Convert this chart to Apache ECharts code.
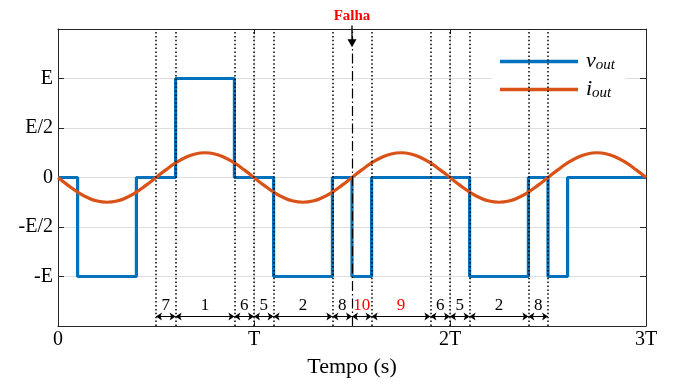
<!DOCTYPE html>
<html>
<head>
<meta charset="utf-8">
<script src="https://cdn.jsdelivr.net/npm/echarts@6/dist/echarts.min.js"></script>
<style>html,body{margin:0;padding:0;background:#fff}#c{width:673px;height:387px}</style>
</head>
<body>
<div id="c"></div>
<script>
// ---- data (time in units of T, amplitude in units of E) ----
var xTickValues = [0, 1, 2, 3];
var xTickLabels = ['0', 'T', '2T', '3T'];
var yTickValues = [-1, -0.5, 0, 0.5, 1];
var yTickLabels = ['-E', '-E/2', '0', 'E/2', 'E'];

// v_out: switching instants and the level held from each instant to the next
var voutTimes  = [0, 0.1, 0.4, 0.6, 0.9, 1.1, 1.4, 1.5, 1.6, 2.1, 2.4, 2.5, 2.6, 3.0];
var voutLevels = [0, -1,  0,   1,   0,   -1,  0,   -1,  0,   -1,  0,   -1,  0,   0];

// i_out: samples every 0.05 T
var ioutStep = 0.05;
var ioutValues = [
  0, -0.077, -0.147, -0.202, -0.238, -0.25, -0.238, -0.202, -0.147, -0.077,
  0, 0.077, 0.147, 0.202, 0.238, 0.25, 0.238, 0.202, 0.147, 0.077,
  0, -0.077, -0.147, -0.202, -0.238, -0.25, -0.238, -0.202, -0.147, -0.077,
  0, 0.077, 0.147, 0.202, 0.238, 0.25, 0.238, 0.202, 0.147, 0.077,
  0, -0.077, -0.147, -0.202, -0.238, -0.25, -0.238, -0.202, -0.147, -0.077,
  0, 0.077, 0.147, 0.202, 0.238, 0.25, 0.238, 0.202, 0.147, 0.077,
  0
];

// interval boundaries and their labels
var boundaries = [0.5, 0.6, 0.9, 1.0, 1.1, 1.4, 1.5, 1.6, 1.9, 2.0, 2.1, 2.4, 2.5];
var intervalLabels = ['7', '1', '6', '5', '2', '8', '10', '9', '6', '5', '2', '8'];
var intervalRed = [false, false, false, false, false, false, true, true, false, false, false, false];
var faultTime = 1.5;
var faultLabel = 'Falha';
var intervalArrowY = -1.405;
var faultArrowTop = 1.535, faultArrowTip = 1.315, faultLabelY = 1.63;

// ---- build ----
var serif = 'Liberation Serif';
var voutData = voutTimes.map(function (t, i) { return [t, voutLevels[i]]; });
var ioutData = ioutValues.map(function (v, i) { return [+(i * ioutStep).toFixed(4), v]; });

var markData = [];
boundaries.forEach(function (b) {
  if (b === faultTime) return;
  markData.push({
    xAxis: b,
    lineStyle: { type: [1.5, 2.4], color: '#000', width: 1.5 },
    label: { show: false }
  });
});
markData.push({
  xAxis: faultTime,
  lineStyle: { type: [10, 3, 1.5, 3], color: '#000', width: 1.2 },
  label: { show: false }
});
for (var i = 0; i < intervalLabels.length; i++) {
  markData.push([
    { coord: [boundaries[i], intervalArrowY], symbol: 'arrow', symbolSize: [6, 6],
      lineStyle: { type: 'solid', color: '#000', width: 1 },
      label: { show: true, position: 'middle', formatter: intervalLabels[i],
               color: intervalRed[i] ? '#ff0000' : '#000', fontFamily: serif, fontSize: 17, distance: 3 } },
    { coord: [boundaries[i + 1], intervalArrowY], symbol: 'arrow', symbolSize: [6, 6] }
  ]);
}

var axisColor = '#262626';
var chart = echarts.init(document.getElementById('c'), null, { renderer: 'canvas' });
chart.setOption({
  animation: false,
  backgroundColor: '#fff',
  grid: { left: 58, right: 27, top: 29, bottom: 61, containLabel: false },
  legend: {
    orient: 'vertical', left: 492, top: 42,
    backgroundColor: '#fff', padding: [8, 10, 8, 8],
    itemWidth: 78, itemHeight: 3.5, itemGap: 5,
    data: [{ name: 'vout', icon: 'rect' }, { name: 'iout', icon: 'rect' }],
    formatter: function (n) { return '{v|' + n.charAt(0) + '}{s|out}'; },
    textStyle: {
      padding: [0, 0, 0, 3],
      rich: {
        v: { fontFamily: serif, fontStyle: 'italic', fontSize: 22, color: '#000', lineHeight: 22 },
        s: { fontFamily: serif, fontStyle: 'italic', fontSize: 15, color: '#000', lineHeight: 14, padding: [8, 0, 0, 0] }
      }
    }
  },
  xAxis: [{
    type: 'value', min: 0, max: 3, interval: 1,
    name: 'Tempo (s)', nameLocation: 'middle', nameGap: 30,
    nameTextStyle: { fontFamily: serif, fontSize: 22, color: '#000' },
    axisLine: { onZero: false, lineStyle: { color: axisColor, width: 1 } },
    axisTick: { inside: true, length: 5, lineStyle: { color: axisColor } },
    axisLabel: { margin: 4, fontFamily: serif, fontSize: 20, color: '#000',
      formatter: function (v) { var k = xTickValues.indexOf(v); return k >= 0 ? xTickLabels[k] : ''; } },
    splitLine: { show: true, lineStyle: { color: '#dedede', width: 1 } }
  }, {
    type: 'value', min: 0, max: 3, interval: 1, position: 'top',
    axisLine: { onZero: false, lineStyle: { color: axisColor, width: 1 } },
    axisTick: { inside: true, length: 5, lineStyle: { color: axisColor } },
    axisLabel: { show: false }, splitLine: { show: false }
  }],
  yAxis: [{
    type: 'value', min: -1.5, max: 1.5, interval: 0.5,
    axisLine: { show: true, onZero: false, lineStyle: { color: axisColor, width: 1 } },
    axisTick: { show: true, inside: true, length: 6, lineStyle: { color: axisColor } },
    axisLabel: { margin: 5, fontFamily: serif, fontSize: 20, color: '#000',
      formatter: function (v) { var k = yTickValues.indexOf(v); return k >= 0 ? yTickLabels[k] : ''; } },
    splitLine: { show: true, lineStyle: { color: '#dedede', width: 1 } }
  }, {
    type: 'value', min: -1.5, max: 1.5, interval: 0.5, position: 'right',
    axisLine: { show: true, onZero: false, lineStyle: { color: axisColor, width: 1 } },
    axisTick: { show: true, inside: true, length: 6, lineStyle: { color: axisColor } },
    axisLabel: { show: false }, splitLine: { show: false }
  }],
  series: [{
    name: 'vout', type: 'line', step: 'end', data: voutData,
    symbol: 'none', color: '#0072BD',
    lineStyle: { width: 3.2, color: '#0072BD' }, z: 3,
    markLine: { silent: true, animation: false, precision: 4, symbol: ['none', 'none'], data: markData }
  }, {
    name: 'iout', type: 'line', data: ioutData, smooth: true,
    symbol: 'none', color: '#D95319',
    lineStyle: { width: 3.2, color: '#D95319' }, z: 4
  }]
});

// fault arrow + label, positioned through the chart's own scales
var pTop = chart.convertToPixel({ gridIndex: 0 }, [faultTime, faultArrowTop]);
var pTip = chart.convertToPixel({ gridIndex: 0 }, [faultTime, faultArrowTip]);
var pLab = chart.convertToPixel({ gridIndex: 0 }, [faultTime, faultLabelY]);
var head = 8;
chart.setOption({
  graphic: [
    { type: 'line', z: 50, shape: { x1: pTop[0], y1: pTop[1], x2: pTip[0], y2: pTip[1] - head + 1 },
      style: { stroke: '#000', lineWidth: 1.3 } },
    { type: 'polygon', z: 50, shape: { points: [[pTip[0] - 4.5, pTip[1] - head], [pTip[0] + 4.5, pTip[1] - head], [pTip[0], pTip[1]]] },
      style: { fill: '#000' } },
    { type: 'text', z: 50, x: pLab[0], y: pLab[1],
      style: { text: faultLabel, fill: '#ff0000', font: 'bold 15px "Liberation Serif"', align: 'center', verticalAlign: 'middle' } }
  ]
});
</script>
</body>
</html>
